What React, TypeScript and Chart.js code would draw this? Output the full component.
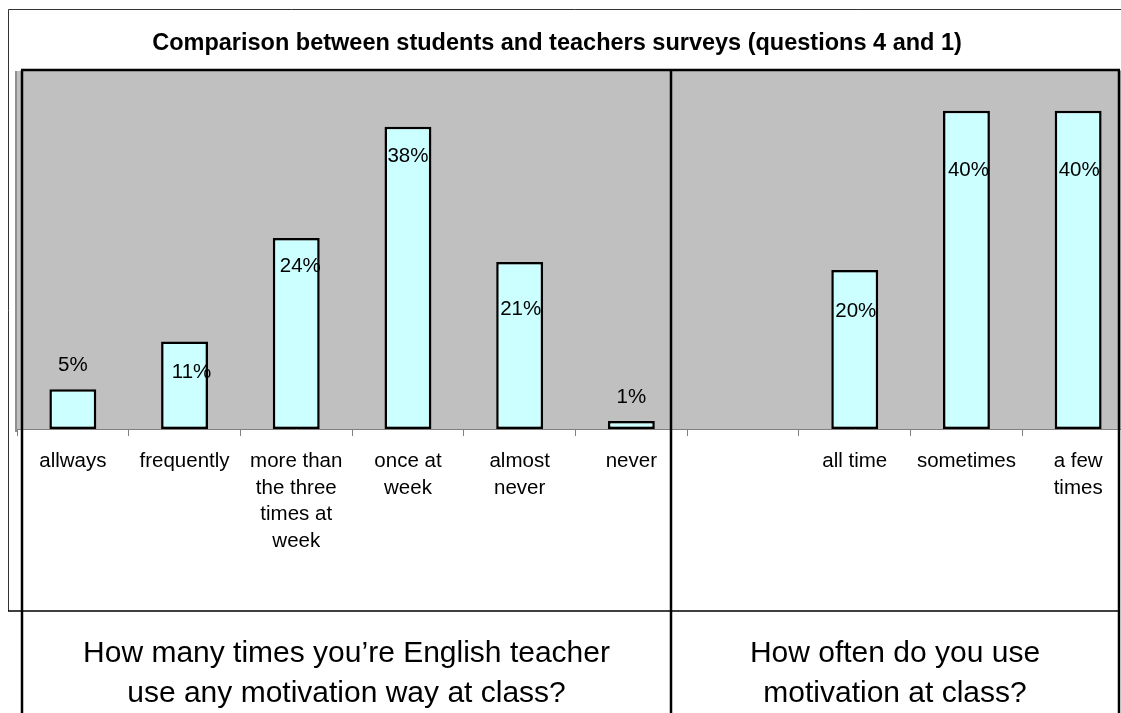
import React, { useEffect, useRef } from "react";
import { Chart, registerables } from "chart.js";

Chart.register(...registerables);

const TITLE = "Comparison between students and teachers surveys (questions 4 and 1)";

const studentCategories: (string | string[])[] = [
  "allways",
  "frequently",
  ["more than", "the three", "times at", "week"],
  ["once at", "week"],
  ["almost", "never"],
  "never",
];
const studentValues: (number | null)[] = [5, 11, 24, 38, 21, 1];

const teacherCategories: (string | string[])[] = ["", "all time", "sometimes", ["a few", "times"]];
const teacherValues: (number | null)[] = [null, 20, 40, 40];

const studentQuestion = ["How many times you’re English teacher", "use any motivation way at class?"];
const teacherQuestion = ["How often do you use", "motivation at class?"];

const Y_MAX = 45;

// data-label placement relative to the top of each bar (style only)
const labelDy = [-24, 31, 28, 30, 47, -24, 0, 41, 60, 60];
const labelDx = [0, 7, 4, 0, 1, 0, 0, 1, 2, 1];

const FONT = "'Liberation Sans', Arial, Helvetica, sans-serif";
const CANVAS_W = 1140;
const CANVAS_H = 713;
const AXIS_H = 140;
const PLOT_BOTTOM = 429;

const decor = {
  id: "decor",
  beforeDraw(chart: any) {
    const { ctx, chartArea: a } = chart;
    ctx.save();
    ctx.fillStyle = "#ffffff";
    ctx.fillRect(0, 0, chart.width, chart.height);
    // outer chart frame
    ctx.strokeStyle = "#333333";
    ctx.lineWidth = 1;
    ctx.beginPath();
    ctx.moveTo(8.5, 611);
    ctx.lineTo(8.5, 9.5);
    ctx.lineTo(chart.width, 9.5);
    ctx.stroke();
    // plot background + shadow
    ctx.fillStyle = "#909090";
    ctx.fillRect(15, a.top, 3, a.bottom - a.top + 3);
    ctx.fillStyle = "#C0C0C0";
    ctx.fillRect(a.left, a.top, a.right - a.left, a.bottom - a.top);
    ctx.restore();
  },
  afterDatasetsDraw(chart: any) {
    const { ctx } = chart;
    const meta = chart.getDatasetMeta(0);
    const vals = chart.data.datasets[0].data;
    ctx.save();
    ctx.fillStyle = "#000";
    ctx.font = `20.5px ${FONT}`;
    ctx.textAlign = "center";
    ctx.textBaseline = "middle";
    meta.data.forEach((el: any, i: number) => {
      const v = vals[i];
      if (v === null || v === undefined) return;
      ctx.fillText(`${v}%`, el.x + labelDx[i], el.y + labelDy[i]);
    });
    ctx.restore();
  },
  afterDraw(chart: any) {
    const { ctx } = chart;
    ctx.save();
    // title
    ctx.fillStyle = "#000";
    ctx.font = `bold 23.5px ${FONT}`;
    ctx.textAlign = "center";
    ctx.textBaseline = "alphabetic";
    ctx.fillText(TITLE, 557, 50);

    // table / cell lines
    ctx.strokeStyle = "#000";
    ctx.lineWidth = 2.5;
    ctx.beginPath();
    ctx.moveTo(21, 70);
    ctx.lineTo(1120, 70);
    ctx.moveTo(22, 70);
    ctx.lineTo(22, 713);
    ctx.moveTo(671, 70);
    ctx.lineTo(671, 713);
    ctx.moveTo(1119, 70);
    ctx.lineTo(1119, 713);
    ctx.stroke();
    ctx.lineWidth = 1.5;
    ctx.beginPath();
    ctx.moveTo(8, 611);
    ctx.lineTo(1120, 611);
    ctx.stroke();

    // question captions
    ctx.font = `30px ${FONT}`;
    ctx.fillStyle = "#000";
    studentQuestion.forEach((t, i) => ctx.fillText(t, 346.5, 662 + i * 40));
    teacherQuestion.forEach((t, i) => ctx.fillText(t, 895, 662 + i * 40));
    ctx.restore();
  },
};

export default function App() {
  const ref = useRef<HTMLCanvasElement | null>(null);

  useEffect(() => {
    if (!ref.current) return;
    const labels = [...studentCategories, ...teacherCategories];
    const values = [...studentValues, ...teacherValues];
    const chart = new Chart(ref.current, {
      type: "bar",
      data: {
        labels,
        datasets: [
          {
            data: values,
            backgroundColor: "#CCFFFF",
            borderColor: "#000000",
            borderWidth: 2.5,
            borderSkipped: false,
            barPercentage: 0.42,
            categoryPercentage: 1,
          },
        ],
      },
      options: {
        responsive: false,
        animation: false,
        devicePixelRatio: 1,
        layout: {
          padding: { left: 17, right: 6, top: 71, bottom: CANVAS_H - PLOT_BOTTOM - AXIS_H },
        },
        plugins: {
          legend: { display: false },
          title: { display: false },
          tooltip: { enabled: false },
        },
        scales: {
          x: {
            grid: {
              display: true,
              drawOnChartArea: false,
              drawTicks: true,
              tickLength: 7,
              color: "#808080",
              offset: true,
            },
            border: { display: true, color: "#808080", width: 1 },
            ticks: {
              color: "#000",
              font: { family: FONT, size: 20.5, lineHeight: 1.3 },
              padding: 12,
              autoSkip: false,
              maxRotation: 0,
              minRotation: 0,
            },
            afterFit: (s: any) => {
              s.height = AXIS_H;
            },
          },
          y: { display: false, min: 0, max: Y_MAX },
        },
      } as any,
      plugins: [decor],
    });
    return () => chart.destroy();
  }, []);

  return (
    <div
      style={{
        position: "absolute",
        left: 0,
        top: 0,
        width: 1121,
        height: 713,
        overflow: "hidden",
        background: "#fff",
      }}
    >
      <canvas ref={ref} width={CANVAS_W} height={CANVAS_H} style={{ display: "block", width: CANVAS_W, height: CANVAS_H }} />
    </div>
  );
}
